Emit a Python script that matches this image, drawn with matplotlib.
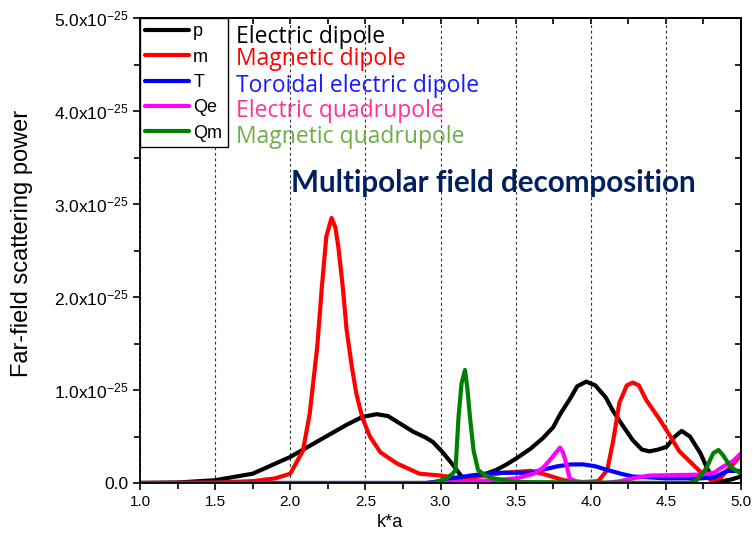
import matplotlib
matplotlib.use("Agg")
import matplotlib.pyplot as plt
from matplotlib.ticker import MultipleLocator, FixedLocator, FixedFormatter

plt.rcParams['font.family'] = ['Liberation Sans', 'DejaVu Sans']
plt.rcParams['mathtext.fontset'] = 'custom'
plt.rcParams['mathtext.rm'] = 'Liberation Sans'
plt.rcParams['mathtext.default'] = 'regular'

SCALE = 1e-25  # powers below are read in units of 1e-25

# electric dipole p
p_x = [1.0, 1.25, 1.5, 1.75, 2.0, 2.13, 2.26, 2.38, 2.48, 2.575, 2.65, 2.72, 2.82, 2.9, 2.95,
       3.02, 3.085, 3.14, 3.2, 3.27, 3.37, 3.44, 3.51, 3.6, 3.68, 3.75, 3.80, 3.86, 3.91, 3.97,
       4.03, 4.1, 4.15, 4.22, 4.28, 4.34, 4.39, 4.45, 4.505, 4.56, 4.605, 4.66, 4.73, 4.78,
       4.83, 4.88, 4.94, 5.0]
p_y = [0.0, 0.005, 0.03, 0.1, 0.28, 0.4, 0.52, 0.63, 0.71, 0.74, 0.72, 0.65, 0.55, 0.49, 0.44,
       0.32, 0.19, 0.07, 0.05, 0.08, 0.14, 0.2, 0.27, 0.37, 0.48, 0.6, 0.75, 0.9, 1.04, 1.09,
       1.05, 0.92, 0.77, 0.6, 0.46, 0.36, 0.34, 0.36, 0.39, 0.5, 0.56, 0.5, 0.32, 0.14,
       0.03, 0.02, 0.04, 0.07]

# magnetic dipole m
m_x = [1.0, 1.5, 1.75, 1.9, 2.0, 2.085, 2.13, 2.18, 2.21, 2.24, 2.275, 2.30, 2.32, 2.35, 2.375,
       2.41, 2.44, 2.48, 2.53, 2.6, 2.71, 2.86, 3.0, 3.13, 3.25, 3.42, 3.6, 3.7, 3.82, 3.95,
       4.05, 4.11, 4.15, 4.19, 4.24, 4.28, 4.32, 4.37, 4.46, 4.53, 4.59, 4.66, 4.73, 4.80,
       4.86, 4.94, 5.0]
m_y = [0.0, 0.005, 0.02, 0.05, 0.10, 0.35, 0.75, 1.47, 2.1, 2.65, 2.85, 2.75, 2.54, 2.1, 1.65,
       1.25, 0.96, 0.7, 0.50, 0.33, 0.21, 0.10, 0.08, 0.05, 0.07, 0.11, 0.13, 0.09, 0.03, 0.01,
       0.02, 0.14, 0.46, 0.86, 1.05, 1.08, 1.05, 0.89, 0.68, 0.50, 0.34, 0.23, 0.12, 0.03,
       0.05, 0.19, 0.30]

# toroidal electric dipole T
t_x = [1.0, 2.9, 3.0, 3.08, 3.2, 3.35, 3.6, 3.7, 3.78, 3.87, 3.95, 4.03, 4.11, 4.2, 4.28, 4.4,
       4.5, 4.73, 4.82, 4.87, 4.91, 5.0]
t_y = [0.0, 0.0, 0.02, 0.05, 0.08, 0.11, 0.11, 0.15, 0.18, 0.2, 0.2, 0.18, 0.14, 0.1, 0.07, 0.06,
       0.05, 0.05, 0.06, 0.1, 0.13, 0.13]

# electric quadrupole Qe
qe_x = [1.0, 3.0, 3.2, 3.35, 3.51, 3.62, 3.68, 3.73, 3.77, 3.795, 3.815, 3.83, 3.86, 3.91, 4.1,
        4.2, 4.28, 4.39, 4.55, 4.73, 4.82, 4.88, 4.95, 5.0]
qe_y = [0.0, 0.0, 0.02, 0.03, 0.05, 0.10, 0.16, 0.25, 0.33, 0.38, 0.33, 0.25, 0.05, 0.01, 0.0,
        0.02, 0.05, 0.08, 0.085, 0.09, 0.11, 0.175, 0.24, 0.32]

# magnetic quadrupole Qm
qm_x = [1.0, 2.95, 3.04, 3.08, 3.10, 3.12, 3.14, 3.163, 3.18, 3.196, 3.22, 3.25, 3.3, 3.35, 3.5,
        4.65, 4.705, 4.77, 4.815, 4.85, 4.88, 4.93, 5.0]
qm_y = [0.0, 0.0, 0.05, 0.1, 0.14, 0.71, 1.07, 1.215, 1.0, 0.71, 0.35, 0.14, 0.08, 0.05, 0.01,
        0.0, 0.03, 0.16, 0.32, 0.355, 0.30, 0.175, 0.10]

series = [(p_x, p_y, 'black', 'p'),
          (m_x, m_y, '#ff0000', 'm'),
          (t_x, t_y, '#0000ff', 'T'),
          (qe_x, qe_y, '#ff00ff', 'Qe'),
          (qm_x, qm_y, '#008000', 'Qm')]

names = ['Electric dipole', 'Magnetic dipole', 'Toroidal electric dipole',
         'Electric quadrupole', 'Magnetic quadrupole']
name_colors = ['black', '#ff0000', '#1a1aff', '#ff3399', '#70ad47']

y_ticks = [0, 1, 2, 3, 4, 5]
y_tick_labels = ['0.0', '1.0x10$^{-25}$', '2.0x10$^{-25}$', '3.0x10$^{-25}$',
                 '4.0x10$^{-25}$', '5.0x10$^{-25}$']

fig = plt.figure(figsize=(7.55, 5.47), dpi=100)
ax = fig.add_axes([140 / 755, 64 / 547, 601 / 755, 465 / 547])

handles = []
for xs, ys, c, lab in series:
    h, = ax.plot(xs, [v * SCALE for v in ys], color=c, lw=3, label=lab,
                 solid_joinstyle='round', solid_capstyle='round')
    handles.append(h)

ax.set_xlim(1.0, 5.0)
ax.set_ylim(0, 5 * SCALE)
ax.xaxis.set_major_locator(MultipleLocator(0.5))
ax.xaxis.set_minor_locator(MultipleLocator(0.25))
ax.yaxis.set_major_locator(FixedLocator([v * SCALE for v in y_ticks]))
ax.yaxis.set_major_formatter(FixedFormatter(y_tick_labels))
ax.yaxis.set_minor_locator(MultipleLocator(0.5 * SCALE))
ax.tick_params(which='both', direction='out', width=1.2, top=False, right=False)
ax.tick_params(axis='x', labelsize=11)
ax.tick_params(axis='y', labelsize=12.5)
ax.tick_params(which='major', length=5)
ax.tick_params(which='minor', length=4)
ax.xaxis.grid(True, which='major', linestyle=(0, (2.5, 2.5)), color='#333333', lw=0.8)
for s in ax.spines.values():
    s.set_linewidth(1.3)

# mirrored ticks pointing inward on top and right
secx = ax.secondary_xaxis('top')
secx.xaxis.set_major_locator(MultipleLocator(0.5))
secx.xaxis.set_minor_locator(MultipleLocator(0.25))
secx.tick_params(which='both', direction='in', length=4, width=1.2, labeltop=False)
secy = ax.secondary_yaxis('right')
secy.yaxis.set_major_locator(MultipleLocator(SCALE))
secy.yaxis.set_minor_locator(MultipleLocator(0.5 * SCALE))
secy.tick_params(which='both', direction='in', length=4, width=1.2, labelright=False)
for sa in (secx, secy):
    for s in sa.spines.values():
        s.set_linewidth(1.3)

leg = ax.legend(handles=handles, loc='upper left', bbox_to_anchor=(0, 1), borderaxespad=0,
                fancybox=False, edgecolor='black', framealpha=1, fontsize=13,
                handlelength=2.4, handletextpad=0.25, labelspacing=0.46, borderpad=0.3)
leg.get_frame().set_linewidth(1.0)

base_y = [0.946, 0.899, 0.841, 0.787, 0.731]
for name, c, by in zip(names, name_colors, base_y):
    ax.text(0.160, by, name, color=c, fontsize=16.5, family=['Open Sans', 'DejaVu Sans'],
            transform=ax.transAxes, va='baseline', ha='left')

ax.text(0.588, 0.626, 'Multipolar field decomposition', color='#002060', fontsize=21.3,
        fontweight='bold', family=['Lato', 'DejaVu Sans'], transform=ax.transAxes,
        va='baseline', ha='center')

ax.text(-0.196, 0.516, 'Far-field scattering power', rotation=90, fontsize=17,
        transform=ax.transAxes, ha='center', va='center')
ax.text(0.416, -0.084, 'k*a', fontsize=13, transform=ax.transAxes, ha='center', va='center')

fig.savefig('out.png', dpi=100)
